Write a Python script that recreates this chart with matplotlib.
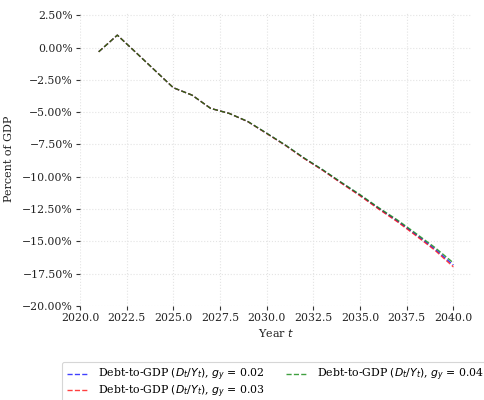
import matplotlib
matplotlib.use("Agg")
import matplotlib.pyplot as plt
from matplotlib.ticker import PercentFormatter

years = list(range(2021, 2041))

# Debt-to-GDP paths (percent of GDP) for three growth assumptions
debt_g02 = [-0.33, 0.96, -0.39, -1.75, -3.11, -3.68, -4.71, -5.10, -5.74, -6.64,
            -7.56, -8.56, -9.48, -10.47, -11.43, -12.45, -13.42, -14.48, -15.58, -16.83]
debt_g03 = [-0.33, 0.96, -0.39, -1.75, -3.11, -3.68, -4.71, -5.10, -5.74, -6.65,
            -7.57, -8.58, -9.50, -10.50, -11.47, -12.50, -13.48, -14.56, -15.67, -16.97]
debt_g04 = [-0.33, 0.96, -0.39, -1.75, -3.11, -3.68, -4.71, -5.10, -5.73, -6.63,
            -7.54, -8.54, -9.45, -10.43, -11.38, -12.39, -13.34, -14.39, -15.46, -16.66]

series = [
    (debt_g02, "blue", r"Debt-to-GDP $(D_t/Y_t)$, $g_y$ = 0.02"),
    (debt_g03, "red", r"Debt-to-GDP $(D_t/Y_t)$, $g_y$ = 0.03"),
    (debt_g04, "green", r"Debt-to-GDP $(D_t/Y_t)$, $g_y$ = 0.04"),
]

plt.rcParams["font.family"] = ["DejaVu Serif"]
plt.rcParams["mathtext.fontset"] = "dejavusans"

fig = plt.figure(figsize=(4.85, 4.0), dpi=100)
ax = fig.add_axes([80 / 485, 1 - 306 / 400, (472 - 80) / 485, (306 - 12) / 400])

for vals, color, label in series:
    ax.plot(years, vals, linestyle="--", color=color, linewidth=1.0, alpha=0.75, label=label)

ax.set_xlim(2020, 2041)
ax.set_ylim(-20, 2.5 + 0.25)
ax.set_xticks([2020 + 2.5 * i for i in range(9)])
ax.set_xticklabels([f"{2020 + 2.5 * i:.1f}" for i in range(9)])
ax.set_yticks([2.5 - 2.5 * i for i in range(10)])
ax.yaxis.set_major_formatter(PercentFormatter(decimals=2))

for s in ax.spines.values():
    s.set_visible(False)
ax.grid(True, linestyle=":", color="#e4e4e4", linewidth=0.8)
ax.tick_params(axis="both", labelsize=7.8, colors="#333333", length=3, width=0.8, pad=2)
for lbl in ax.get_xticklabels() + ax.get_yticklabels():
    lbl.set_color("#222222")

ax.set_xlabel("Year $t$", fontsize=8, color="#222222", labelpad=3)
ax.set_ylabel("Percent of GDP", fontsize=8, color="#222222", labelpad=6)

leg = fig.legend(loc="upper left", bbox_to_anchor=(62 / 485, 1 - 362 / 400), ncol=2,
                 fontsize=7.8, frameon=True, fancybox=True, edgecolor="#cccccc",
                 handlelength=2.0, handletextpad=0.9, columnspacing=1.9,
                 borderpad=0.45, labelspacing=0.0, borderaxespad=0.0)
leg.get_frame().set_linewidth(0.8)

fig.savefig("out.png", dpi=100)
